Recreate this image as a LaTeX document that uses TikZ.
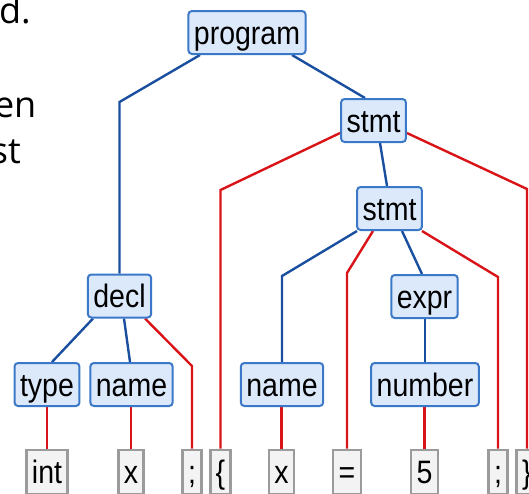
\documentclass[tikz,border=0pt]{standalone}
\usepackage{fontspec}
\setmainfont{Liberation Sans}[FakeStretch=0.88]
\newfontfamily\slidefont{Open Sans}
\usetikzlibrary{backgrounds}
\definecolor{nodefill}{HTML}{DCE9FB}
\definecolor{nodeborder}{HTML}{3B78C8}
\definecolor{edgeblue}{HTML}{1A4FA0}
\definecolor{edgered}{HTML}{D91418}
\definecolor{leaffill}{HTML}{F3F3F3}
\definecolor{leafborder}{HTML}{9B9B9B}
\begin{document}
\begin{tikzpicture}[x=1pt,y=-1pt,
 inner/.style={draw=nodeborder, fill=nodefill, line width=2pt, rounded corners=3.5pt, minimum height=43pt, inner xsep=5.5pt, inner ysep=0pt, text height=30pt, text depth=7pt, font=\fontsize{32.4}{34}\selectfont},
 leaf/.style={draw=leafborder, fill=leaffill, line width=2.6pt, minimum height=44pt, inner xsep=5.5pt, inner ysep=0pt, text height=30pt, text depth=7pt, font=\fontsize{32.4}{34}\selectfont},
 bl/.style={draw=edgeblue, line width=2.4pt},
 rd/.style={draw=edgered, line width=2.4pt},
 slide/.style={anchor=base east, inner sep=0pt, font=\slidefont\fontsize{36}{46}\selectfont}]
\useasboundingbox (0,0) rectangle (529,493);
% slide text fragments
\node[slide] (t1) at (31,23) {nd.};
\node[slide] (t2) at (36.5,117) {en};
\node[slide] (t3) at (21,163) {st};
% inner nodes
\node[inner] (program) at (247,32.5) {program};
\node[inner] (stmtA) at (373.5,120.5) {stmt};
\node[inner] (stmtB) at (389.5,208.5) {stmt};
\node[inner] (decl) at (119.5,296) {decl};
\node[inner] (expr) at (424.5,296.5) {expr};
\node[inner] (type) at (47,384.5) {type};
\node[inner] (nameA) at (131.5,384.5) {name};
\node[inner] (nameB) at (282,384.5) {name};
\node[inner] (number) at (425,384.5) {number};
% leaves
\node[leaf] (int) at (47,472) {int};
\node[leaf] (xA) at (131,472) {x};
\node[leaf] (semiA) at (192,472) {;};
\node[leaf] (lbrace) at (220.5,472) {\{};
\node[leaf] (xB) at (281.5,472) {x};
\node[leaf] (eq) at (347,472) {=};
\node[leaf] (five) at (424.5,472) {5};
\node[leaf] (semiB) at (498,472) {;};
\node[leaf] (rbrace) at (527,472) {\}};
% connectors
\begin{scope}[on background layer]
\draw[bl] (program.south -| 200,0) -- (119.5,102) -- (decl.north);
\draw[bl] (program.south -| 292,0) -- (stmtA.north -| 365,0);
\draw[rd] (stmtA.west |- 0,133) -- (lbrace.north |- 0,190) -- (lbrace.north);
\draw[bl] (stmtA.south -| 380,0) -- (stmtB.north -| 387,0);
\draw[rd] (stmtA.east |- 0,133) -- (rbrace.north |- 0,189) -- (rbrace.north);
\draw[bl] (stmtB.south -| 357,0) -- (nameB.north |- 0,276) -- (nameB.north);
\draw[rd] (stmtB.south -| 373,0) -- (eq.north |- 0,273) -- (eq.north);
\draw[bl] (stmtB.south -| 402,0) -- (expr.north -| 422,0);
\draw[rd] (stmtB.south -| 422,0) -- (semiB.north |- 0,277) -- (semiB.north);
\draw[bl] (decl.south -| 93,0) -- (type.north -| 52,0);
\draw[bl] (decl.south -| 124,0) -- (nameA.north -| 130,0);
\draw[rd] (decl.south -| 145,0) -- (semiA.north |- 0,366) -- (semiA.north);
\draw[rd] (type) -- (int);
\draw[rd] (nameA.south -| xA.north) -- (xA.north);
\draw[rd] (nameB.south -| xB.north) -- (xB.north);
\draw[bl] (expr.south -| number.north) -- (number.north);
\draw[rd] (number.south -| five.north) -- (five.north);
\end{scope}
\end{tikzpicture}
\end{document}
